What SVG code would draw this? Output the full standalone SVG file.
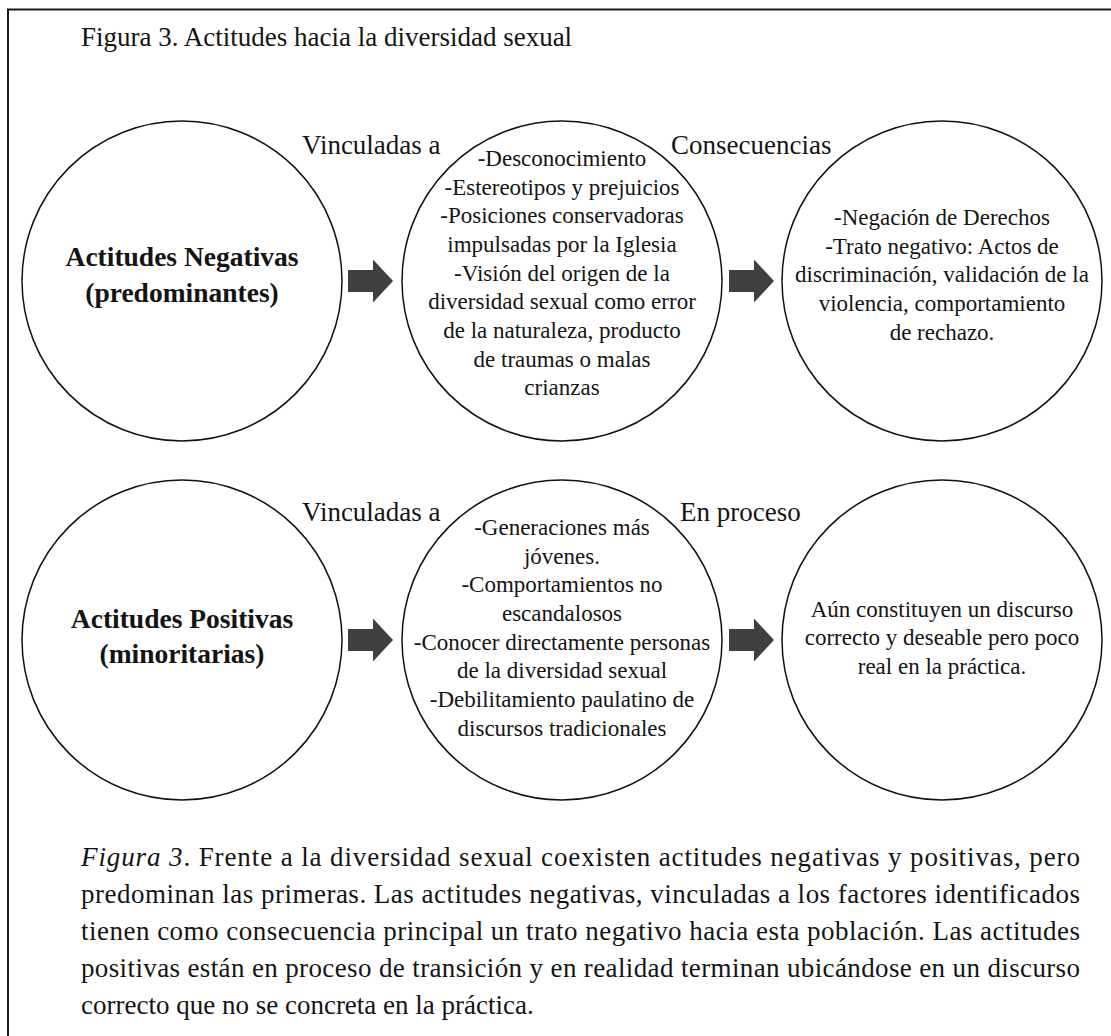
<svg xmlns="http://www.w3.org/2000/svg" width="1111" height="1036" viewBox="0 0 1111 1036">
<style>
  .t { font-family: "Liberation Serif", "Times New Roman", serif; fill: #141414; }
  .lbl { font-size: 27px; }
  .body { font-size: 23px; text-anchor: middle; }
  .head { font-size: 27.5px; font-weight: bold; text-anchor: middle; }
  .cap { font-size: 27px; }
  .ring { fill: #fff; stroke: #111; stroke-width: 1.5; }
  .arrow { fill: #404040; }
</style>
<defs>
  <path id="blockArrow" d="M0,-11 H25 V-21.5 L45,0 L25,21.5 V11 H0 Z"/>
</defs>
<rect x="0" y="0" width="1111" height="1036" fill="#fff"/>
<path d="M8,1036 V9.5 H1111" fill="none" stroke="#1a1a1a" stroke-width="2"/>

<text class="t lbl" x="81" y="46">Figura 3. Actitudes hacia la diversidad sexual</text>

<g id="connectors">
  <use href="#blockArrow" class="arrow" x="348" y="281"/>
  <use href="#blockArrow" class="arrow" x="729" y="281"/>
  <use href="#blockArrow" class="arrow" x="348" y="640"/>
  <use href="#blockArrow" class="arrow" x="729" y="640"/>
  <text class="t lbl" x="302" y="154">Vinculadas a</text>
  <text class="t lbl" x="671" y="154">Consecuencias</text>
  <text class="t lbl" x="302" y="521">Vinculadas a</text>
  <text class="t lbl" x="680" y="521">En proceso</text>
</g>

<g id="node-neg">
  <circle class="ring" cx="182" cy="281" r="160"/>
  <text class="t head" x="182" y="265.5">Actitudes Negativas</text>
  <text class="t head" x="182" y="301.5">(predominantes)</text>
</g>

<g id="node-neg-factors">
  <circle class="ring" cx="562" cy="281" r="160"/>
  <text class="t body" x="562" y="166">-Desconocimiento</text>
  <text class="t body" x="562" y="194.7">-Estereotipos y prejuicios</text>
  <text class="t body" x="562" y="223.3">-Posiciones conservadoras</text>
  <text class="t body" x="562" y="252">impulsadas por la Iglesia</text>
  <text class="t body" x="562" y="280.7">-Visión del origen de la</text>
  <text class="t body" x="562" y="309.3">diversidad sexual como error</text>
  <text class="t body" x="562" y="338">de la naturaleza, producto</text>
  <text class="t body" x="562" y="366.7">de traumas o malas</text>
  <text class="t body" x="562" y="395.3">crianzas</text>
</g>

<g id="node-neg-consequences">
  <circle class="ring" cx="942" cy="281" r="160"/>
  <text class="t body" x="942" y="225">-Negación de Derechos</text>
  <text class="t body" x="942" y="253.7">-Trato negativo: Actos de</text>
  <text class="t body" x="942" y="282.3">discriminación, validación de la</text>
  <text class="t body" x="942" y="311">violencia, comportamiento</text>
  <text class="t body" x="942" y="339.7">de rechazo.</text>
</g>

<g id="node-pos">
  <circle class="ring" cx="182" cy="640" r="160"/>
  <text class="t head" x="182" y="628.3">Actitudes Positivas</text>
  <text class="t head" x="182" y="663.3">(minoritarias)</text>
</g>

<g id="node-pos-factors">
  <circle class="ring" cx="562" cy="640" r="160"/>
  <text class="t body" x="562" y="535">-Generaciones más</text>
  <text class="t body" x="562" y="563.7">jóvenes.</text>
  <text class="t body" x="562" y="592.3">-Comportamientos no</text>
  <text class="t body" x="562" y="621">escandalosos</text>
  <text class="t body" x="562" y="649.7">-Conocer directamente personas</text>
  <text class="t body" x="562" y="678.3">de la diversidad sexual</text>
  <text class="t body" x="562" y="707">-Debilitamiento paulatino de</text>
  <text class="t body" x="562" y="735.7">discursos tradicionales</text>
</g>

<g id="node-pos-process">
  <circle class="ring" cx="942" cy="640" r="160"/>
  <text class="t body" x="942" y="616.7">Aún constituyen un discurso</text>
  <text class="t body" x="942" y="645.3">correcto y deseable pero poco</text>
  <text class="t body" x="942" y="674">real en la práctica.</text>
</g>

<g id="caption">
  <text class="t cap" x="81" y="866" textLength="999" lengthAdjust="spacing"><tspan font-style="italic">Figura 3</tspan>. Frente a la diversidad sexual coexisten actitudes negativas y positivas, pero</text>
  <text class="t cap" x="81" y="903" textLength="999" lengthAdjust="spacing">predominan las primeras. Las actitudes negativas, vinculadas a los factores identificados</text>
  <text class="t cap" x="81" y="940" textLength="999" lengthAdjust="spacing">tienen como consecuencia principal un trato negativo hacia esta población. Las actitudes</text>
  <text class="t cap" x="81" y="977" textLength="999" lengthAdjust="spacing">positivas están en proceso de transición y en realidad terminan ubicándose en un discurso</text>
  <text class="t cap" x="81" y="1014">correcto que no se concreta en la práctica.</text>
</g>
</svg>
